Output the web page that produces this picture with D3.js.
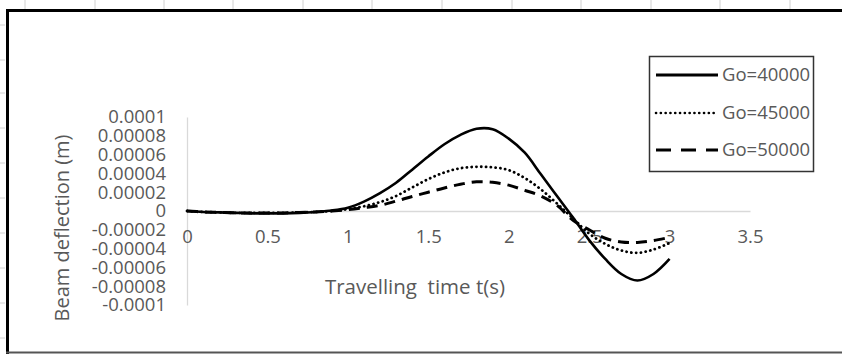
<!DOCTYPE html>
<html>
<head>
<meta charset="utf-8">
<script src="https://cdn.jsdelivr.net/npm/d3@7"></script>
<style>
  html, body { margin: 0; padding: 0; background: #fff; }
  svg { display: block; font-family: "Open Sans", "Noto Sans", sans-serif; }
</style>
</head>
<body>
<div id="chart"></div>
<script>
// travelling time t(s)
const times = [0, 0.1, 0.2, 0.3, 0.4, 0.5, 0.6, 0.7, 0.8, 0.9, 1.0, 1.1, 1.2, 1.3, 1.4, 1.5,
               1.6, 1.7, 1.8, 1.9, 2.0, 2.1, 2.2, 2.3, 2.4, 2.5, 2.6, 2.7, 2.8, 2.9, 3.0];

// beam deflection (m) for each Go
const go40000 = [0, -1e-6, -1.5e-6, -2e-6, -2.5e-6, -2.5e-6, -2.5e-6, -2e-6, -1e-6, 0.5e-6, 3.5e-6,
                 10e-6, 19e-6, 30e-6, 44e-6, 58e-6, 71e-6, 81e-6, 87.5e-6, 87e-6, 77e-6,
                 62e-6, 39e-6, 16e-6, -7e-6, -31e-6, -51e-6, -67e-6, -74e-6, -67e-6, -51e-6];
const go45000 = [0, -1e-6, -1.5e-6, -2e-6, -2e-6, -2e-6, -2e-6, -1.5e-6, -1e-6, 0, 2e-6,
                 5e-6, 9.5e-6, 16e-6, 25e-6, 34e-6, 41e-6, 45.5e-6, 47e-6, 46.5e-6, 43.5e-6,
                 35e-6, 23e-6, 8e-6, -8e-6, -24e-6, -35e-6, -42e-6, -44.5e-6, -41e-6, -34e-6];
const go50000 = [0, -1e-6, -1.5e-6, -2e-6, -2e-6, -2e-6, -2e-6, -1.5e-6, -1e-6, 0, 1.5e-6,
                 3.5e-6, 6e-6, 10.5e-6, 15.5e-6, 20e-6, 24.5e-6, 28.5e-6, 31e-6, 30.5e-6, 27.5e-6,
                 22e-6, 16e-6, 6e-6, -10e-6, -20e-6, -29e-6, -33e-6, -33.5e-6, -31.5e-6, -28e-6];

const seriesNames = ["Go=40000", "Go=45000", "Go=50000"];

const xTicks = [0, 0.5, 1, 1.5, 2, 2.5, 3, 3.5];
const xTickLabels = ["0", "0.5", "1", "1.5", "2", "2.5", "3", "3.5"];
const yTicks = [0.0001, 0.00008, 0.00006, 0.00004, 0.00002, 0, -0.00002, -0.00004, -0.00006, -0.00008, -0.0001];
const yTickLabels = ["0.0001", "0.00008", "0.00006", "0.00004", "0.00002", "0",
                     "-0.00002", "-0.00004", "-0.00006", "-0.00008", "-0.0001"];

const W = 842, H = 354;
const svg = d3.select("#chart").append("svg").attr("width", W).attr("height", H);

// faint sheet gridlines around the pasted chart
const sheetCols = [25, 95, 164, 233, 303, 372, 442, 512, 581, 651, 720, 790];
svg.selectAll(".col").data(sheetCols).enter().append("line")
  .attr("x1", d => d).attr("x2", d => d).attr("y1", 0).attr("y2", 9)
  .attr("stroke", "#d0d0d0").attr("stroke-width", 1);
const sheetRows = [25, 60, 93, 128, 163, 198, 233, 268, 303, 338];
svg.selectAll(".row").data(sheetRows).enter().append("line")
  .attr("x1", 0).attr("x2", 5).attr("y1", d => d).attr("y2", d => d)
  .attr("stroke", "#d0d0d0").attr("stroke-width", 1);

// chart frame
svg.append("line").attr("x1", 6).attr("x2", W).attr("y1", 10.5).attr("y2", 10.5)
  .attr("stroke", "#000").attr("stroke-width", 3);
svg.append("line").attr("x1", 7.5).attr("x2", 7.5).attr("y1", 9).attr("y2", H)
  .attr("stroke", "#000").attr("stroke-width", 3);
svg.append("line").attr("x1", 6).attr("x2", W).attr("y1", 352.5).attr("y2", 352.5)
  .attr("stroke", "#555").attr("stroke-width", 2);

const x = d3.scaleLinear().domain([0, 3.5]).range([187, 750]);
const y = d3.scaleLinear().domain([-0.0001, 0.0001]).range([305, 117]);

// y axis
const yAxis = svg.append("g").attr("transform", `translate(${x(0)},0)`)
  .call(d3.axisLeft(y).tickValues(yTicks).tickSize(0).tickPadding(21)
    .tickFormat((d, i) => yTickLabels[i]));
yAxis.select(".domain").attr("stroke", "#d9d9d9").attr("stroke-width", 1.3);
yAxis.selectAll("text").attr("fill", "#595959").style("font-size", "18.5px")
  .style("font-family", "'Open Sans', sans-serif");

// x axis through zero
const xAxis = svg.append("g").attr("transform", `translate(0,${y(0)})`)
  .call(d3.axisBottom(x).tickValues(xTicks).tickSize(0).tickPadding(19)
    .tickFormat((d, i) => xTickLabels[i]));
xAxis.select(".domain").attr("stroke", "#d9d9d9").attr("stroke-width", 1.3);
xAxis.selectAll("text").attr("fill", "#595959").style("font-size", "18.5px")
  .style("font-family", "'Open Sans', sans-serif");

// axis titles
svg.append("text")
  .attr("transform", "translate(69,228) rotate(-90)")
  .attr("text-anchor", "middle")
  .attr("fill", "#595959").style("font-size", "20px")
  .text("Beam deflection (m)");
svg.append("text")
  .attr("x", 415).attr("y", 294)
  .attr("text-anchor", "middle")
  .attr("fill", "#595959").style("font-size", "20.5px")
  .style("white-space", "pre").attr("xml:space", "preserve")
  .text("Travelling  time t(s)");

// series
const styles = [
  { width: 2.6, dash: null, cap: "butt" },
  { width: 2.8, dash: "0.1,4.7", cap: "round" },
  { width: 3, dash: "11,7", cap: "butt" }
];
const allSeries = [go40000, go45000, go50000];

const line = d3.line()
  .x((d, i) => x(times[i]))
  .y(d => y(d))
  .curve(d3.curveCatmullRom.alpha(0.5));

allSeries.forEach((vals, k) => {
  svg.append("path")
    .datum(vals)
    .attr("d", line)
    .attr("fill", "none")
    .attr("stroke", "#000")
    .attr("stroke-width", styles[k].width)
    .attr("stroke-linecap", styles[k].cap)
    .attr("stroke-dasharray", styles[k].dash);
});

// legend
const legend = svg.append("g");
legend.append("rect")
  .attr("x", 649.5).attr("y", 56.5).attr("width", 164).attr("height", 115)
  .attr("fill", "#fff").attr("stroke", "#333").attr("stroke-width", 1.5);
const legendY = [75, 113, 150];
seriesNames.forEach((name, k) => {
  legend.append("line")
    .attr("x1", 656).attr("x2", 718).attr("y1", legendY[k]).attr("y2", legendY[k])
    .attr("stroke", "#000")
    .attr("stroke-width", k === 1 ? 2.6 : 3)
    .attr("stroke-linecap", styles[k].cap)
    .attr("stroke-dasharray", k === 2 ? "15,10" : styles[k].dash);
  legend.append("text")
    .attr("x", 722).attr("y", legendY[k]).attr("dy", "0.35em")
    .attr("fill", "#595959").style("font-size", "18.5px")
    .text(name);
});
</script>
</body>
</html>
